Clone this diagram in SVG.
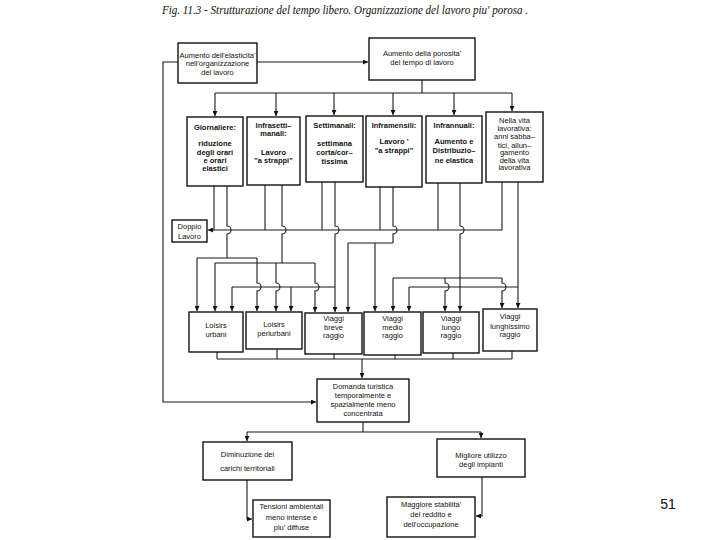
<svg xmlns="http://www.w3.org/2000/svg" width="720" height="540" viewBox="0 0 720 540">
<defs>
<marker id="ah" viewBox="0 0 10 10" refX="10" refY="5" markerWidth="5" markerHeight="5" orient="auto" markerUnits="userSpaceOnUse"><path d="M0,0 L10,5 L0,10 z" fill="#111"/></marker>
<style>
.box{fill:#fff;stroke:#111;stroke-width:1.4}
.t{font-family:"Liberation Sans",Arial,sans-serif;font-size:7.5px;fill:#111;text-anchor:middle}
.b{font-weight:bold}
.c{fill:none;stroke:#1a1a1a;stroke-width:1.1}
.a{marker-end:url(#ah)}
</style>
</defs>
<rect width="720" height="540" fill="#fff"/>
<text x="162" y="14" font-family="Liberation Serif,serif" font-style="italic" font-size="12.5" fill="#111" textLength="366" lengthAdjust="spacingAndGlyphs">Fig. 11.3 - Strutturazione del tempo libero. Organizzazione del lavoro piu' porosa .</text>
<text x="668" y="509" font-family="Liberation Sans,Arial,sans-serif" font-size="14" fill="#111" text-anchor="middle">51</text>

<g id="connectors">
<path class="c a" d="M257,62 H368"/>
<path class="c a" d="M178,62 H163 V402 H316"/>
<path class="c" d="M422,80 V93 M215,93 H512"/>
<path class="c a" d="M215,93 V116"/>
<path class="c a" d="M276,93 V116"/>
<path class="c a" d="M334,93 V115"/>
<path class="c a" d="M393,93 V115"/>
<path class="c a" d="M454,93 V115"/>
<path class="c a" d="M512,93 V111"/>
<!-- Doppio lavoro bus -->
<path class="c a" d="M502,182 V230 H208"/>
<path class="c" d="M214,186 V230 M265,185 V230 M322,182 V230 M380,187 V230 M438,183 V230"/>
<!-- Giornaliere 2 -->
<path class="c" d="M227,186 V226 a4,4 0 0 1 0,8 V258 M197,258 H257"/>
<path class="c a" d="M197,258 V311"/>
<path class="c a" d="M257,258 V283 a4,4 0 0 1 0,8 V311"/>
<!-- Infrasettimanali 2 -->
<path class="c" d="M282,185 V226 a4,4 0 0 1 0,8 V263 M215,263 H315"/>
<path class="c a" d="M215,263 V311"/>
<path class="c a" d="M276,263 V283 a4,4 0 0 1 0,8 V311"/>
<path class="c a" d="M315,263 V283 a4,4 0 0 1 0,8 V312"/>
<!-- Settimanali 2 -->
<path class="c a" d="M335,182 V226 a4,4 0 0 1 0,8 V312"/>
<path class="c" d="M232,287 H335"/>
<path class="c a" d="M232,287 V311"/>
<path class="c a" d="M291,287 V311"/>
<!-- Inframensili 2 -->
<path class="c" d="M393,187 V226 a4,4 0 0 1 0,8 V243 M348,243 H393"/>
<path class="c a" d="M348,243 V312"/>
<path class="c a" d="M375,243 V311"/>
<!-- Infrannuali 2 -->
<path class="c a" d="M460,183 V226 a4,4 0 0 1 0,8 V311"/>
<path class="c" d="M393,278 H502"/>
<path class="c a" d="M393,278 V311"/>
<path class="c a" d="M445,278 V283 a4,4 0 0 1 0,8 V311"/>
<path class="c a" d="M502,278 V283 a4,4 0 0 1 0,8 V308"/>
<!-- Nella vita 2 -->
<path class="c a" d="M518,182 V308"/>
<path class="c" d="M518,287 H409"/>
<path class="c a" d="M409,287 V311"/>
<!-- row 3 to Domanda -->
<path class="c" d="M217,352 V359 M277,349 V359 M334,354 V359 M395,355 V359 M453,353 V359 M512,351 V359 M217,359 H512"/>
<path class="c a" d="M362,359 V378"/>
<path class="c" d="M363,422 V432 M247,432 H481"/>
<path class="c a" d="M247,432 V441"/>
<path class="c a" d="M481,432 V438"/>
<path class="c a" d="M247,480 V519 H252"/>
<path class="c a" d="M482,477 V516 H476"/>
</g>

<g id="n-elasticita">
<rect class="box" x="178" y="43" width="79" height="40"/>
<text class="t" x="217.5" y="57.5">Aumento dell'elasticita'</text>
<text class="t" x="217.5" y="66">nell'organizzazione</text>
<text class="t" x="217.5" y="74.5">del lavoro</text>
</g>
<g id="n-porosita">
<rect class="box" x="369" y="38" width="106" height="42"/>
<text class="t" x="422" y="56">Aumento della porosita'</text>
<text class="t" x="422" y="64.5">del tempo di lavoro</text>
</g>

<g id="n-giornaliere">
<rect class="box" x="187" y="117" width="56" height="69"/>
<text class="t b" x="215" y="130">Giornaliere:</text>
<text class="t b" x="215" y="146">riduzione</text>
<text class="t b" x="215" y="155">degli orari</text>
<text class="t b" x="215" y="162.5">e orari</text>
<text class="t b" x="215" y="171">elastici</text>
</g>
<g id="n-infrasettimanali">
<rect class="box" x="247" y="117" width="53" height="68"/>
<text class="t b" x="273.5" y="127.5">Infrasetti–</text>
<text class="t b" x="273.5" y="136">manali:</text>
<text class="t b" x="273.5" y="155">Lavoro</text>
<text class="t b" x="273.5" y="162.5">"a strappi"</text>
</g>
<g id="n-settimanali">
<rect class="box" x="306" y="116" width="57" height="66"/>
<text class="t b" x="334.5" y="127.5">Settimanali:</text>
<text class="t b" x="334.5" y="146">settimana</text>
<text class="t b" x="334.5" y="154.5">corta/cor–</text>
<text class="t b" x="334.5" y="163.5">tissima</text>
</g>
<g id="n-inframensili">
<rect class="box" x="366" y="116" width="56" height="71"/>
<text class="t b" x="394" y="127.5">Inframensili:</text>
<text class="t b" x="394" y="144">Lavoro  '</text>
<text class="t b" x="394" y="153">"a strappi"</text>
</g>
<g id="n-infrannuali">
<rect class="box" x="426" y="116" width="56" height="67"/>
<text class="t b" x="454" y="127.5">Infrannuali:</text>
<text class="t b" x="454" y="144">Aumento e</text>
<text class="t b" x="454" y="153">Distribuzio–</text>
<text class="t b" x="454" y="162.5">ne elastica</text>
</g>
<g id="n-vita">
<rect class="box" x="486" y="112" width="57" height="70"/>
<text class="t" x="514.5" y="123">Nella vita</text>
<text class="t" x="514.5" y="131">lavorativa:</text>
<text class="t" x="514.5" y="139">anni sabba–</text>
<text class="t" x="514.5" y="147.5">tici, allun–</text>
<text class="t" x="514.5" y="155">gamento</text>
<text class="t" x="514.5" y="162.5">della vita</text>
<text class="t" x="514.5" y="170">lavorativa</text>
</g>

<g id="n-doppio">
<rect class="box" x="172" y="220" width="35" height="22"/>
<text class="t" x="189.5" y="229">Doppio</text>
<text class="t" x="189.5" y="238.5">Lavoro</text>
</g>

<g id="n-urbani">
<rect class="box" x="189" y="312" width="54" height="40"/>
<text class="t" x="216" y="327.5">Loisirs</text>
<text class="t" x="216" y="336.5">urbani</text>
</g>
<g id="n-periurbani">
<rect class="box" x="246" y="312" width="56" height="37"/>
<text class="t" x="274" y="326.5">Loisirs</text>
<text class="t" x="274" y="336">periurbani</text>
</g>
<g id="n-breve">
<rect class="box" x="305" y="313" width="57" height="41"/>
<text class="t" x="333.5" y="321">Viaggi</text>
<text class="t" x="333.5" y="329.5">breve</text>
<text class="t" x="333.5" y="338">raggio</text>
</g>
<g id="n-medio">
<rect class="box" x="364" y="312" width="57" height="43"/>
<text class="t" x="392.5" y="321">Viaggi</text>
<text class="t" x="392.5" y="329.5">medio</text>
<text class="t" x="392.5" y="338">raggio</text>
</g>
<g id="n-lungo">
<rect class="box" x="423" y="312" width="56" height="41"/>
<text class="t" x="451" y="321">Viaggi</text>
<text class="t" x="451" y="329.5">lungo</text>
<text class="t" x="451" y="338">raggio</text>
</g>
<g id="n-lunghissimo">
<rect class="box" x="483" y="309" width="54" height="42"/>
<text class="t" x="510" y="319">Viaggi</text>
<text class="t" x="510" y="328.5">lunghissimo</text>
<text class="t" x="510" y="337">raggio</text>
</g>

<g id="n-domanda">
<rect class="box" x="317" y="379" width="92" height="43"/>
<text class="t" x="363" y="388.5">Domanda turistica</text>
<text class="t" x="363" y="397.5">temporalmente e</text>
<text class="t" x="363" y="407">spazialmente meno</text>
<text class="t" x="363" y="415.5">concentrata</text>
</g>
<g id="n-diminuzione">
<rect class="box" x="203" y="442" width="89" height="38"/>
<text class="t" x="247.5" y="457">Diminuzione dei</text>
<text class="t" x="247.5" y="470.5">carichi territoriali</text>
</g>
<g id="n-migliore">
<rect class="box" x="437" y="439" width="88" height="38"/>
<text class="t" x="481" y="457.5">Migliore utilizzo</text>
<text class="t" x="481" y="466.5">degli impianti</text>
</g>
<g id="n-tensioni">
<rect class="box" x="253" y="500" width="77" height="37"/>
<text class="t" x="291.5" y="508.5">Tensioni ambientali</text>
<text class="t" x="291.5" y="519.5">meno intense e</text>
<text class="t" x="291.5" y="529.5">piu' diffuse</text>
</g>
<g id="n-stabilita">
<rect class="box" x="387" y="497" width="88" height="40"/>
<text class="t" x="431" y="506.5">Maggiore stabilita'</text>
<text class="t" x="431" y="516.5">del reddito e</text>
<text class="t" x="431" y="526.5">dell'occupazione</text>
</g>
</svg>
